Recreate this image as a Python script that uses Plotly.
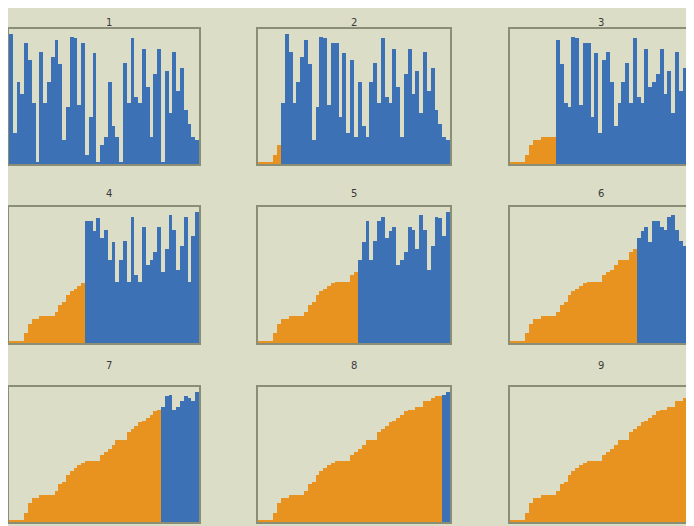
import plotly.graph_objects as go

values = [96, 23, 61, 52, 90, 77, 45, 1, 83, 45,
          61, 79, 92, 74, 18, 42, 94, 93, 44, 90,
          7, 35, 82, 1, 14, 20, 61, 28, 20, 1,
          75, 45, 93, 50, 45, 85, 57, 20, 67, 85,
          1, 69, 38, 83, 54, 71, 40, 30, 20, 18]

# number of elements already placed (sorted) in each panel
sorted_counts = [0, 6, 12, 20, 26, 33, 40, 48, 50]
panel_titles = ["1", "2", "3", "4", "5", "6", "7", "8", "9"]

ORANGE = "#E8931F"
BLUE = "#3C72B5"
BG = "#DCDDC6"
BORDER = "#8A8E77"

# selection-sort snapshots of the data
snapshots = []
arr = list(values)
step = 0
for k in sorted_counts:
    while step < k:
        m = min(range(step, len(arr)), key=lambda j: arr[j])
        arr[step], arr[m] = arr[m], arr[step]
        step += 1
    snapshots.append((list(arr), k))

# page has an 8px body margin, so the figure starts at (8, 8)
W, H = 686, 518
col_px = [(1, 191), (250, 442), (502, 694)]
row_px = [(21, 156), (199, 335), (379, 514)]

fig = go.Figure()
n = len(values)
for p, (snap, k) in enumerate(snapshots):
    r, c = divmod(p, 3)
    ax = p + 1
    xs = "x" if ax == 1 else f"x{ax}"
    ys = "y" if ax == 1 else f"y{ax}"
    colors = [ORANGE if i < k else BLUE for i in range(n)]
    fig.add_trace(go.Bar(x=list(range(n)), y=snap, marker=dict(color=colors, line=dict(width=0)),
                         xaxis=xs, yaxis=ys, showlegend=False, hoverinfo="skip"))
    x0, x1 = col_px[c]
    clip = min(x1, W)
    frac = (clip - x0) / (x1 - x0)
    xr = [-0.5, -0.5 + n * frac]
    y0, y1 = row_px[r]
    xkey = "xaxis" if ax == 1 else f"xaxis{ax}"
    ykey = "yaxis" if ax == 1 else f"yaxis{ax}"
    fig.layout[xkey] = dict(domain=[x0 / W, clip / W], range=xr, anchor=ys,
                            showticklabels=False, ticks="", showgrid=False, zeroline=False,
                            showline=True, mirror=True, linecolor=BORDER, linewidth=1.5,
                            fixedrange=True)
    fig.layout[ykey] = dict(domain=[1 - y1 / H, 1 - y0 / H], range=[0, 100], anchor=xs,
                            showticklabels=False, ticks="", showgrid=False, zeroline=False,
                            showline=True, mirror=(c < 2), linecolor=BORDER, linewidth=1.5,
                            fixedrange=True)
    fig.add_annotation(text=panel_titles[p], xref="paper", yref="paper",
                       x=((x0 + x1) / 2) / W, y=1 - (y0 - 14) / H,
                       showarrow=False, font=dict(size=10, color="#3A3A3A", family="DejaVu Sans"))

fig.update_layout(width=W, height=H, margin=dict(l=0, r=0, t=0, b=0),
                  paper_bgcolor=BG, plot_bgcolor=BG, bargap=0)
fig.write_html("out.html")
